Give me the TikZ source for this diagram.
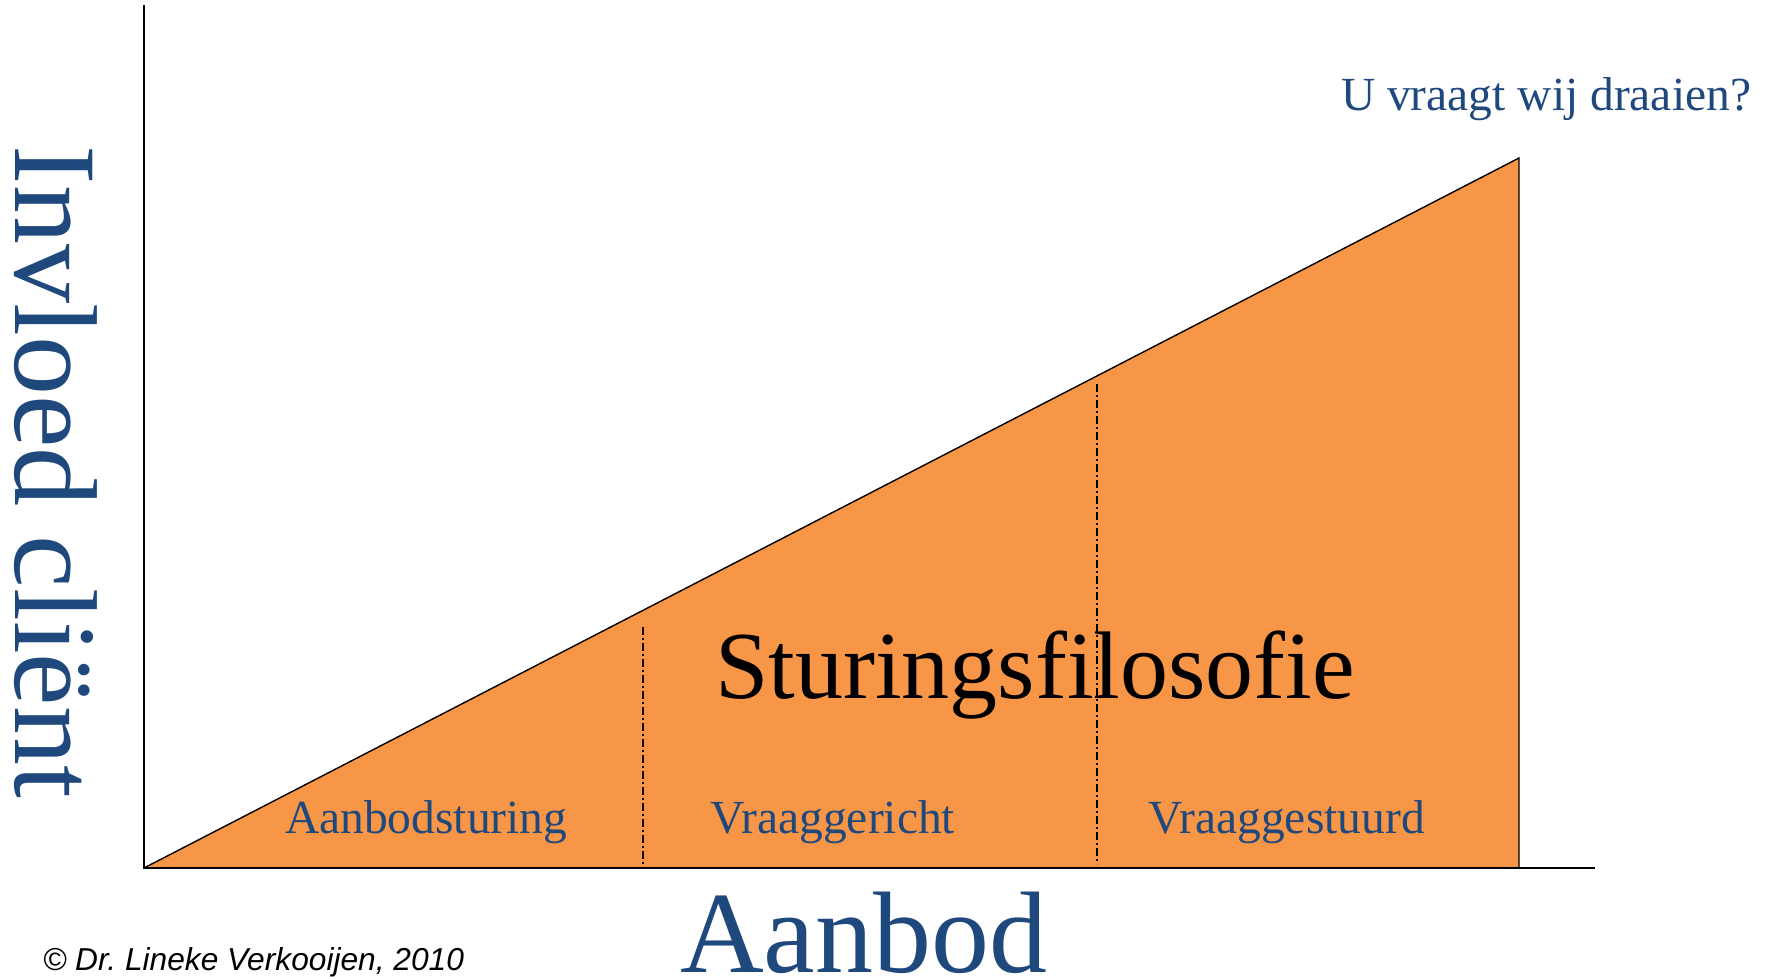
\documentclass[tikz,border=0pt]{standalone}
\usepackage{fontspec}
\setmainfont{Liberation Serif}
\newfontfamily\arialfont{Liberation Sans}
\definecolor{orng}{RGB}{247,150,70}
\definecolor{txtblue}{RGB}{31,73,125}
\frenchspacing
\begin{document}
\begin{tikzpicture}[x=0.5pt,y=-0.5pt,
  lbl/.style={inner sep=0pt,outer sep=0pt,anchor=base west},
  small/.style={lbl,text=txtblue,font=\fontsize{23.75}{28}\selectfont},
  axisline/.style={line width=1pt,black},
  divider/.style={line width=0.6pt,black,dash pattern=on 4pt off 1.6pt on 0.8pt off 1.6pt}]
\useasboundingbox (0,0) rectangle (1773,979);
\coordinate (O) at (144,868);
\coordinate (A) at (1519,158);
\coordinate (B) at (1519,868);
\coordinate (Ytop) at (144,5);
\coordinate (Xend) at (1595,868);
\fill[orng] (O) -- (A) -- (B) -- cycle;
\draw[line width=0.7pt] (O) -- (A) -- (B);
\coordinate (d1t) at (643,627);
\coordinate (d1b) at (643,864);
\coordinate (d2t) at (1097,384);
\coordinate (d2b) at (1097,864);
\draw[divider] (d1t) -- (d1b);
\draw[divider] (d2t) -- (d2b);
\draw[axisline] (Ytop) -- (O) -- (Xend);
\node[lbl,text=txtblue,rotate=-90,font=\fontsize{59}{70}\selectfont] (ylab) at (15,146) {Invloed cliënt};
\node[lbl,text=txtblue,font=\fontsize{58}{70}\selectfont] (xlab) at (680,972) {Aanbod};
\node[lbl,font=\fontsize{48}{58}\selectfont] (title) at (715,698) {Sturingsfilosofie};
\node[small] (s1) at (285,833) {Aanbodsturing};
\node[small] (s2) at (710,833) {Vraaggericht};
\node[small] (s3) at (1148,833) {Vraaggestuurd};
\node[small] (q) at (1341,111) {U vraagt wij draaien?};
\node[lbl,font=\arialfont\itshape\fontsize{15.85}{19}\selectfont] (copy) at (43,970) {© Dr. Lineke Verkooijen, 2010};
\end{tikzpicture}
\end{document}
